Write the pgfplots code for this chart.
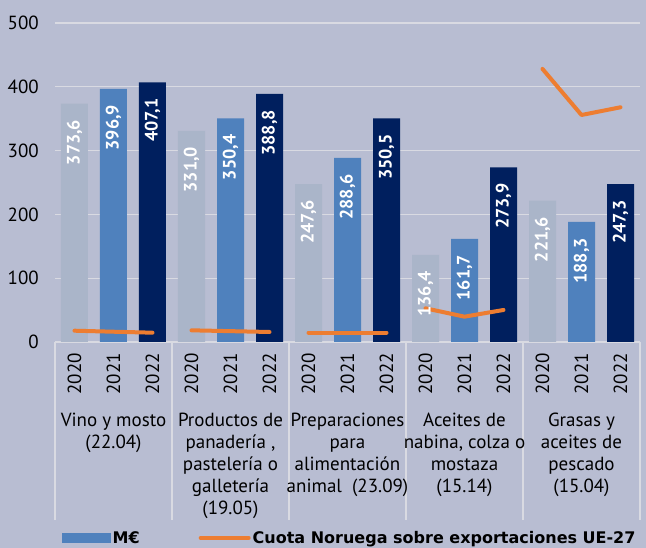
\documentclass[border=0pt]{standalone}
\usepackage{pgfplots}
\pgfplotsset{compat=1.18}
\usepackage{fontspec}
\setmainfont{PT Sans}
\newfontfamily\legfont{DejaVu Sans}
\definecolor{bg}{HTML}{B8BDD2}
\definecolor{cA}{HTML}{AAB5C9}
\definecolor{cB}{HTML}{4F81BD}
\definecolor{cC}{HTML}{001F5E}
\definecolor{orng}{HTML}{ED7D31}
\definecolor{gridc}{HTML}{D9DAE2}
\newcommand\yr[1]{#1\hspace*{11pt}}
\begin{document}
\begin{tikzpicture}
\fill[bg] (-55pt,-206pt) rectangle (591pt,342pt);
\begin{axis}[
  scale only axis, width=585pt, height=319pt,
  xmin=-0.5, xmax=14.5, ymin=0, ymax=500,
  axis line style={draw=none},
  ytick={0,100,...,500},
  ymajorgrids, grid style={color=gridc, line width=1.2pt},
  major tick length=0pt,
  xtick={0,...,14},
  xticklabels={\yr{2020},\yr{2021},\yr{2022},\yr{2020},\yr{2021},\yr{2022},\yr{2020},\yr{2021},\yr{2022},\yr{2020},\yr{2021},\yr{2022},\yr{2020},\yr{2021},\yr{2022}},
  x tick label style={rotate=90, anchor=east, inner sep=0pt, font=\fontsize{19}{19}\selectfont},
  y tick label style={font=\fontsize{19}{19}\selectfont, inner sep=0pt},
  yticklabel shift={16pt},
  /pgf/number format/assume math mode=true,
  clip=false,
  nodes near coords={\pgfmathprintnumber[fixed,fixed zerofill,precision=1,use comma]{\pgfplotspointmeta}},
  every node near coord/.style={yshift=-16pt, rotate=90, anchor=east, inner sep=0pt, text=white, font=\bfseries\fontsize{18}{18}\selectfont},
  legend style={at={(axis description cs:0.011,-0.614)}, anchor=west, draw=none, fill=none, inner sep=0pt,
    legend columns=2, /tikz/every even column/.append style={column sep=57pt},
    font=\legfont\bfseries\fontsize{16}{16}\selectfont, legend cell align=left},
]
\addplot[ybar, bar width=27pt, bar shift=0pt, fill=cA, draw=none, forget plot] coordinates {(0,373.6)(3,331.0)(6,247.6)(9,136.4)(12,221.6)};
\addplot[ybar, bar width=27pt, bar shift=0pt, fill=cB, draw=none, forget plot] coordinates {(1,396.9)(4,350.4)(7,288.6)(10,161.7)(13,188.3)};
\addplot[ybar, bar width=27pt, bar shift=0pt, fill=cC, draw=none, forget plot] coordinates {(2,407.1)(5,388.8)(8,350.5)(11,273.9)(14,247.3)};
\addplot[orng, line width=4pt, line cap=round, line join=round, forget plot, nodes near coords=] coordinates {(0,17.7)(1,16.1)(2,14.6)};
\addplot[orng, line width=4pt, line cap=round, line join=round, forget plot, nodes near coords=] coordinates {(3,18.3)(4,17.0)(5,15.7)};
\addplot[orng, line width=4pt, line cap=round, line join=round, forget plot, nodes near coords=] coordinates {(6,14.6)(7,14.6)(8,14.6)};
\addplot[orng, line width=4pt, line cap=round, line join=round, forget plot, nodes near coords=] coordinates {(9,52.8)(10,39.7)(11,50.2)};
\addplot[orng, line width=4pt, line cap=round, line join=round, forget plot, nodes near coords=] coordinates {(12,428)(13,355.8)(14,367.9)};
\addlegendimage{legend image code/.code={\fill[cB, draw=none] (0pt,-5pt) rectangle (49pt,5pt);}}
\addlegendentry{M€}
\addlegendimage{legend image code/.code={\draw[orng, line width=4pt, line cap=round] (2pt,0pt) -- (50pt,0pt);}}
\addlegendentry{Cuota Noruega sobre exportaciones UE-27}
\foreach \s in {-0.5,2.5,5.5,8.5,11.5,14.5} {
  \edef\tmp{\noexpand\draw[gridc, line width=1.3pt] (axis cs:\s,0) -- ++(0pt,-178pt);}\tmp
}
\foreach \c/\t in {1/{Vino y mosto\\(22.04)}, 4/{Productos de\\panadería ,\\pastelería o\\galletería\\(19.05)}, 7/{Preparaciones\\para\\alimentación\\animal\ \ (23.09)}, 10/{Aceites de\\nabina, colza o\\mostaza\\(15.14)}, 13/{Grasas y\\aceites de\\pescado\\(15.04)}} {
  \edef\tmp{\noexpand\node[anchor=north, align=center, font=\noexpand\fontsize{19}{22}\noexpand\selectfont, inner sep=0pt] at (axis cs:\c,0) [yshift=-68pt] {\noexpand\rule{0pt}{16pt}\unexpanded\expandafter{\t}};}\tmp
}
\end{axis}
\end{tikzpicture}
\end{document}
